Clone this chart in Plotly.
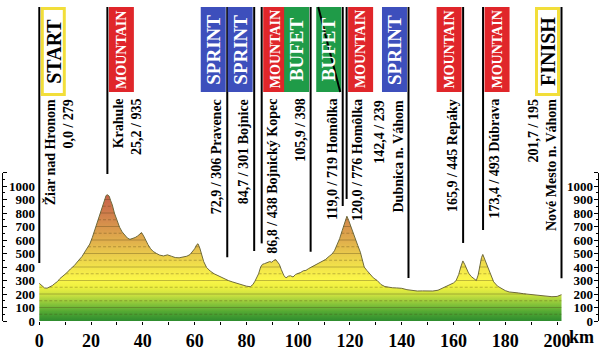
import plotly.graph_objects as go

# ---------------- data ----------------
km = [0, 1, 2, 3, 4, 5, 6, 7, 8, 9, 10.5, 12, 13.5, 15, 16.5, 18, 19.5, 20.5, 21.5, 22.5,
      23.5, 24.5, 25.3, 25.8, 26.3, 27, 27.5, 28.2, 29, 30, 31, 32, 33, 34, 35, 36, 37, 38,
      39, 39.5, 40.3, 41, 42, 43, 44, 45.3, 46.5, 48, 49.5, 51, 52.5, 54, 55.5, 57, 58.2,
      59.2, 60, 60.8, 61.3, 62, 62.7, 63.5, 64.6, 66, 67.5, 69, 71, 73, 74.5, 76, 78, 80,
      81.5, 82.5, 83.3, 84, 84.7, 85.5, 86.2, 87, 88, 89, 89.8, 90.5, 91.3, 92, 92.7, 93.5,
      94.5, 95.3, 96.2, 97, 98, 99, 100, 101, 102, 103, 104, 105, 106.5, 108, 109.5, 110.5,
      112, 113, 114, 115, 116, 117, 118, 118.8, 119.5, 120.3, 121, 122, 123, 124, 124.8,
      125.5, 126.5, 127.5, 129, 130.5, 132, 133.5, 135, 136.5, 138, 140, 142, 144, 146, 148,
      150, 152, 154, 156, 158, 160, 161, 162, 162.8, 163.6, 164.3, 165, 165.8, 166.8, 168,
      168.8, 169.5, 170.2, 170.8, 171.3, 172, 172.7, 173.5, 174.5, 175.5, 177, 178.5, 180,
      181.5, 183, 184, 185, 187, 189, 191, 192.5, 194, 196, 198, 200, 201, 201.7]
elev = [279, 262, 245, 243, 250, 262, 278, 292, 315, 330, 355, 385, 410, 445, 478, 525, 570,
        620, 680, 740, 800, 850, 905, 930, 935, 925, 895, 860, 800, 745, 695, 660, 635, 615,
        605, 610, 618, 630, 650, 655, 630, 600, 565, 535, 515, 500, 488, 482, 490, 480, 470,
        468, 472, 480, 492, 515, 535, 565, 572, 540, 490, 440, 397, 370, 350, 335, 316, 300,
        290, 280, 268, 258, 254, 270, 295, 320, 350, 400, 420, 425, 432, 440, 435, 448, 455,
        440, 420, 380, 335, 320, 332, 335, 326, 345, 352, 360, 372, 375, 388, 398, 412, 430,
        445, 455, 480, 495, 520, 560, 610, 670, 730, 776, 745, 700, 660, 610, 560, 510, 440,
        400, 375, 350, 320, 300, 270, 255, 248, 246, 245, 242, 232, 225, 222, 223, 222, 222,
        228, 245, 262, 282, 300, 345, 400, 445, 420, 390, 355, 330, 310, 300, 340, 420, 470,
        493, 460, 420, 375, 330, 290, 258, 240, 225, 215, 212, 215, 208, 202, 198, 194, 190,
        188, 184, 180, 182, 188, 195]

marker_kind = ["START", "MOUNTAIN", "SPRINT", "SPRINT", "MOUNTAIN", "BUFET", "BUFET_X",
               "MOUNTAIN", "SPRINT", "MOUNTAIN", "MOUNTAIN", "FINISH"]
marker_km = [0, 26.3, 72.6, 83.0, 85.9, 104.8, 117.2, 118.7, 142.6, 163.7, 171.4, 201.7]
marker_text = [
    ["Žiar nad Hronom", "0,0 / 279"],
    ["Krahule", "25,2 / 935"],
    ["72,9 / 306 Pravenec"],
    ["84,7 / 301 Bojnice"],
    ["86,8 / 438 Bojnický Kopec"],
    ["105,9 / 398"],
    ["119,0 / 719 Homôlka"],
    ["120,0 / 776 Homôlka"],
    ["142,4 / 239", "Dubnica n. Váhom"],
    ["165,9 / 445 Repáky"],
    ["173,4 / 493 Dúbrava"],
    ["201,7 / 195", "Nové Mesto n. Váhom"],
]
marker_side = ["right", "right", "left", "left", "right", "left", "left", "right", "left",
               "left", "right", "left"]
stem_end_m = [430, 1089, 472, 518, 575, 513, 852, 904, 318, 578, 674, 316]

x_tick_vals = [0, 20, 40, 60, 80, 100, 120, 140, 160, 180, 200]
y_tick_vals = [0, 100, 200, 300, 400, 500, 600, 700, 800, 900, 1000]

# ---------------- geometry / style ----------------
W, H = 600, 353
X0_PX = 39.3          # pixel of km 0
PX_PER_KM = 2.589
Y0_PX = 321.0         # pixel of 0 m
PX_PER_M = 0.135
YMAX = Y0_PX / PX_PER_M
XR = [-0.6, 202.3]
dom = [(X0_PX + XR[0] * PX_PER_KM) / W, (X0_PX + XR[1] * PX_PER_KM) / W]


def y_at(px):
    return (Y0_PX - px) / PX_PER_M


def dkm(px):
    return px / PX_PER_KM


SERIF = "Liberation Serif"
BOX_COLORS = {"MOUNTAIN": "#e0262a", "SPRINT": "#3d4fbc", "BUFET": "#1f9b48",
              "BUFET_X": "#1f9b48", "START": "white", "FINISH": "white"}
BOX_FONT = {"MOUNTAIN": 14, "SPRINT": 19, "BUFET": 19, "BUFET_X": 19, "START": 20, "FINISH": 20}

grad = [[0.0, "#2e8c2e"], [0.07, "#54a933"], [0.13, "#8cc63a"], [0.19, "#c8e040"],
        [0.25, "#eef040"], [0.31, "#fbf64a"], [0.40, "#f2e34a"], [0.50, "#e9c94c"],
        [0.60, "#e0ad4c"], [0.70, "#d8954c"], [0.80, "#d07d4c"], [0.90, "#c9674a"],
        [1.0, "#c25a48"]]

fig = go.Figure()
fig.add_trace(go.Scatter(
    x=km, y=elev, mode="lines", line=dict(color="#6e6a3c", width=1),
    fill="tozeroy",
    fillgradient=dict(type="vertical", colorscale=grad, start=0, stop=1000),
    hoverinfo="skip", showlegend=False))


def level_segments(xs, ys, L):
    ox, oy = [], []
    if ys[0] > L:
        ox.append(xs[0]); oy.append(L)
    for i in range(len(xs) - 1):
        y0, y1 = ys[i], ys[i + 1]
        if (y0 > L) != (y1 > L):
            t = (L - y0) / (y1 - y0)
            ox.append(xs[i] + t * (xs[i + 1] - xs[i])); oy.append(L)
            if y0 > L:
                ox.append(None); oy.append(None)
    if ys[-1] > L:
        ox.append(xs[-1]); oy.append(L)
    ox.append(None); oy.append(None)
    return ox, oy


sx, sy, dx_, dy_ = [], [], [], []
for L in range(50, 951, 50):
    a, b = level_segments(km, elev, L)
    if L % 100 == 0:
        sx += a; sy += b
    else:
        dx_ += a; dy_ += b
fig.add_trace(go.Scatter(x=sx, y=sy, mode="lines", line=dict(color="rgba(70,60,20,0.32)", width=1),
                         hoverinfo="skip", showlegend=False))
fig.add_trace(go.Scatter(x=dx_, y=dy_, mode="lines",
                         line=dict(color="rgba(70,60,20,0.32)", width=1, dash="3px,2px"),
                         hoverinfo="skip", showlegend=False))

# dummy traces so the extra axes render
for ya in ["y2", "y3", "y4"]:
    fig.add_trace(go.Scatter(x=[100], y=[500], yaxis=ya, mode="markers",
                             marker=dict(size=1, opacity=0), hoverinfo="skip", showlegend=False))

shapes, annos = [], []
BOX_W = 25
box_top, box_bot = y_at(7), y_at(92)
for kind, xk, txt, side, se in zip(marker_kind, marker_km, marker_text, marker_side, stem_end_m):
    shapes.append(dict(type="line", xref="x", yref="y", x0=xk, x1=xk, y0=box_top, y1=se,
                       line=dict(color="black", width=2)))
    if side == "right":
        bx0, bx1 = xk + dkm(1.5), xk + dkm(1.5 + BOX_W)
    else:
        bx0, bx1 = xk - dkm(1.5 + BOX_W), xk - dkm(1.5)
    if kind in ("START", "FINISH"):
        shapes.append(dict(type="rect", xref="x", yref="y", x0=bx0 + dkm(1.5), x1=bx1 - dkm(1.5),
                           y0=box_top - 1.5 / PX_PER_M, y1=box_bot - 2.5 / PX_PER_M,
                           fillcolor="white", line=dict(color="#f2de3a", width=3)))
        tcol = "black"
    else:
        shapes.append(dict(type="rect", xref="x", yref="y", x0=bx0, x1=bx1, y0=box_top, y1=box_bot,
                           fillcolor=BOX_COLORS[kind], line=dict(width=0)))
        tcol = "white"
    label = "BUFET" if kind == "BUFET_X" else kind
    annos.append(dict(x=(bx0 + bx1) / 2,
                      y=(box_top + box_bot) / 2 - (2 / PX_PER_M if kind in ("START", "FINISH") else 0),
                      xref="x", yref="y", text=label, textangle=-90, showarrow=False,
                      font=dict(family=SERIF, size=BOX_FONT[kind], color=tcol, weight="bold"),
                      xanchor="center", yanchor="middle"))
    if kind == "BUFET_X":
        shapes.append(dict(type="line", xref="x", yref="y", x0=bx0 + dkm(2), y0=box_top,
                           x1=bx1 - dkm(1), y1=box_bot, line=dict(color="black", width=2)))
    annos.append(dict(x=xk, y=y_at(97), xref="x", yref="y", text="<br>".join(txt),
                      textangle=-90, showarrow=False, align="right",
                      font=dict(family=SERIF, size=14, color="black", weight="bold"),
                      xanchor="left" if side == "right" else "right", yanchor="top",
                      xshift=1 if side == "right" else -1))

annos.append(dict(x=567 / W, y=(Y0_PX - 337) / Y0_PX, xref="paper", yref="paper", text="km",
                  showarrow=False, xanchor="left", yanchor="middle",
                  font=dict(family=SERIF, size=18, color="black", weight="bold")))

tickfont = dict(family=SERIF, size=13, color="black", weight="bold")
bracket = dict(anchor="free", domain=[0, 1100 / YMAX], range=[0, 1100], showline=True,
               linecolor="black", linewidth=1, ticks="outside", ticklen=4, tickcolor="black",
               tickvals=list(range(0, 1101, 100)), showticklabels=False, showgrid=False,
               zeroline=False, automargin=False,
               minor=dict(tickvals=list(range(50, 1100, 100)), ticks="outside",
                          ticklen=2, tickcolor="black"))

fig.update_layout(
    width=W, height=H, margin=dict(l=0, r=0, t=0, b=int(H - Y0_PX), autoexpand=False),
    paper_bgcolor="white", plot_bgcolor="rgba(0,0,0,0)", showlegend=False,
    xaxis=dict(domain=dom, range=XR, tickvals=x_tick_vals, ticks="outside", ticklen=3,
               tickcolor="black", showgrid=False, zeroline=False, showline=False,
               automargin=False,
               tickfont=dict(family=SERIF, size=18, color="black", weight="bold"),
               minor=dict(dtick=10, ticks="outside", ticklen=3, tickcolor="black")),
    yaxis=dict(anchor="free", position=35 / W, side="left", range=[0, YMAX],
               tickvals=y_tick_vals, showgrid=False, zeroline=False, showline=False,
               ticks="", tickfont=tickfont, automargin=False),
    yaxis2=dict(anchor="free", overlaying="y", position=593 / W, side="left", range=[0, YMAX],
                tickvals=y_tick_vals, showgrid=False, zeroline=False, showline=False,
                ticks="", tickfont=tickfont, automargin=False),
    yaxis3=dict(position=2 / W, side="right", **bracket),
    yaxis4=dict(position=598 / W, side="left", **bracket),
    shapes=shapes, annotations=annos,
)

fig.write_html("out.html")
